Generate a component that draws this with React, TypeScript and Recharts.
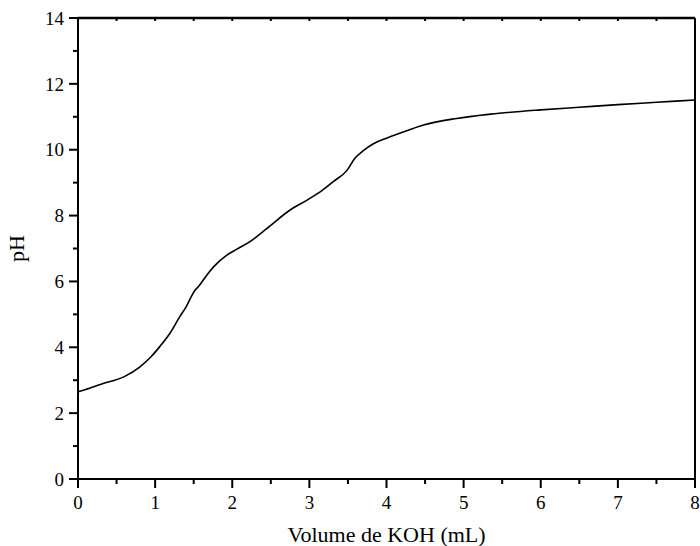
import React from 'react';
import { LineChart, Line, XAxis, YAxis, Label, ReferenceLine } from 'recharts';

// titration curve
const volume = [0, 0.1, 0.3, 0.6, 0.8, 0.95, 1.06, 1.19, 1.32, 1.39, 1.52, 1.56, 1.67, 1.76, 1.93, 2.06, 2.23, 2.45, 2.75, 2.97, 3.14, 3.31, 3.49, 3.59, 3.7, 3.83, 4.0, 4.29, 4.48, 4.91, 5.35, 6.0, 6.5, 7.0, 7.5, 8.0];
const pH = [2.65, 2.72, 2.88, 3.11, 3.4, 3.72, 4.02, 4.42, 4.93, 5.18, 5.74, 5.84, 6.19, 6.45, 6.8, 6.98, 7.21, 7.61, 8.17, 8.47, 8.72, 9.03, 9.38, 9.74, 9.97, 10.18, 10.35, 10.6, 10.75, 10.95, 11.08, 11.21, 11.29, 11.37, 11.44, 11.51];

const xTicks = [0, 0.5, 1, 1.5, 2, 2.5, 3, 3.5, 4, 4.5, 5, 5.5, 6, 6.5, 7, 7.5, 8];
const yTicks = [0, 1, 2, 3, 4, 5, 6, 7, 8, 9, 10, 11, 12, 13, 14];

const data = volume.map((v, i) => ({ v, ph: pH[i] }));

const font = 'Liberation Serif';
const axisStroke = { stroke: '#000', strokeWidth: 2 };

const PLOT_LEFT = 78;
const PLOT_TOP = 18;
const PLOT_BOTTOM = 479;

// left ticks: long + label on even values, short on odd
const LeftTick = (props: any) => {
  const { y, payload } = props;
  const major = payload.value % 2 === 0;
  return (
    <g>
      <line x1={PLOT_LEFT - (major ? 9 : 5)} x2={PLOT_LEFT} y1={y} y2={y} stroke="#000" strokeWidth={2} />
      {major && (
        <text x={PLOT_LEFT - 14} y={y} dy="0.35em" textAnchor="end" fontSize={19} style={{ fontFamily: font }} fill="#000">
          {payload.value}
        </text>
      )}
    </g>
  );
};

// bottom ticks: long + label on integers, short on halves; same x gets a short inward tick on the top frame
const BottomTick = (props: any) => {
  const { x, payload } = props;
  const major = Number.isInteger(payload.value);
  return (
    <g>
      <line x1={x} x2={x} y1={PLOT_BOTTOM} y2={PLOT_BOTTOM + (major ? 9 : 5)} stroke="#000" strokeWidth={2} />
      <line x1={x} x2={x} y1={PLOT_TOP} y2={PLOT_TOP + 3} stroke="#000" strokeWidth={2} />
      {major && (
        <text x={x} y={PLOT_BOTTOM + 30} textAnchor="middle" fontSize={19} style={{ fontFamily: font }} fill="#000">
          {payload.value}
        </text>
      )}
    </g>
  );
};

export default function App() {
  return (
    <div style={{ position: 'absolute', left: 0, top: 0, background: '#fff', fontFamily: font }}>
      <LineChart width={700} height={546} data={data} margin={{ top: PLOT_TOP, right: 5, left: 0, bottom: 0 }}>
        <XAxis
          dataKey="v"
          type="number"
          domain={[0, 8]}
          ticks={xTicks}
          interval={0}
          height={67}
          tickLine={false}
          tick={<BottomTick />}
          axisLine={axisStroke}
        >
          <Label value="Volume de KOH (mL)" position="insideBottom" offset={4} style={{ fill: '#000', fontSize: 22, fontFamily: font }} />
        </XAxis>
        <YAxis
          type="number"
          domain={[0, 14]}
          ticks={yTicks}
          interval={0}
          width={78}
          tickLine={false}
          tick={<LeftTick />}
          axisLine={axisStroke}
        >
          <Label value="pH" angle={-90} position="insideLeft" offset={16} style={{ fill: '#000', fontSize: 22, fontFamily: font, textAnchor: 'middle' }} />
        </YAxis>
        <YAxis
          yAxisId="right"
          orientation="right"
          type="number"
          domain={[0, 14]}
          ticks={yTicks}
          interval={0}
          width={1}
          mirror
          tickSize={3}
          tick={false}
          axisLine={axisStroke}
          tickLine={axisStroke}
        />
        {/* top frame line */}
        <ReferenceLine y={14} stroke="#000" strokeWidth={2.5} ifOverflow="visible" />
        <Line
          type="monotone"
          dataKey="ph"
          stroke="#000"
          strokeWidth={1.6}
          dot={false}
          isAnimationActive={false}
        />
      </LineChart>
    </div>
  );
}
